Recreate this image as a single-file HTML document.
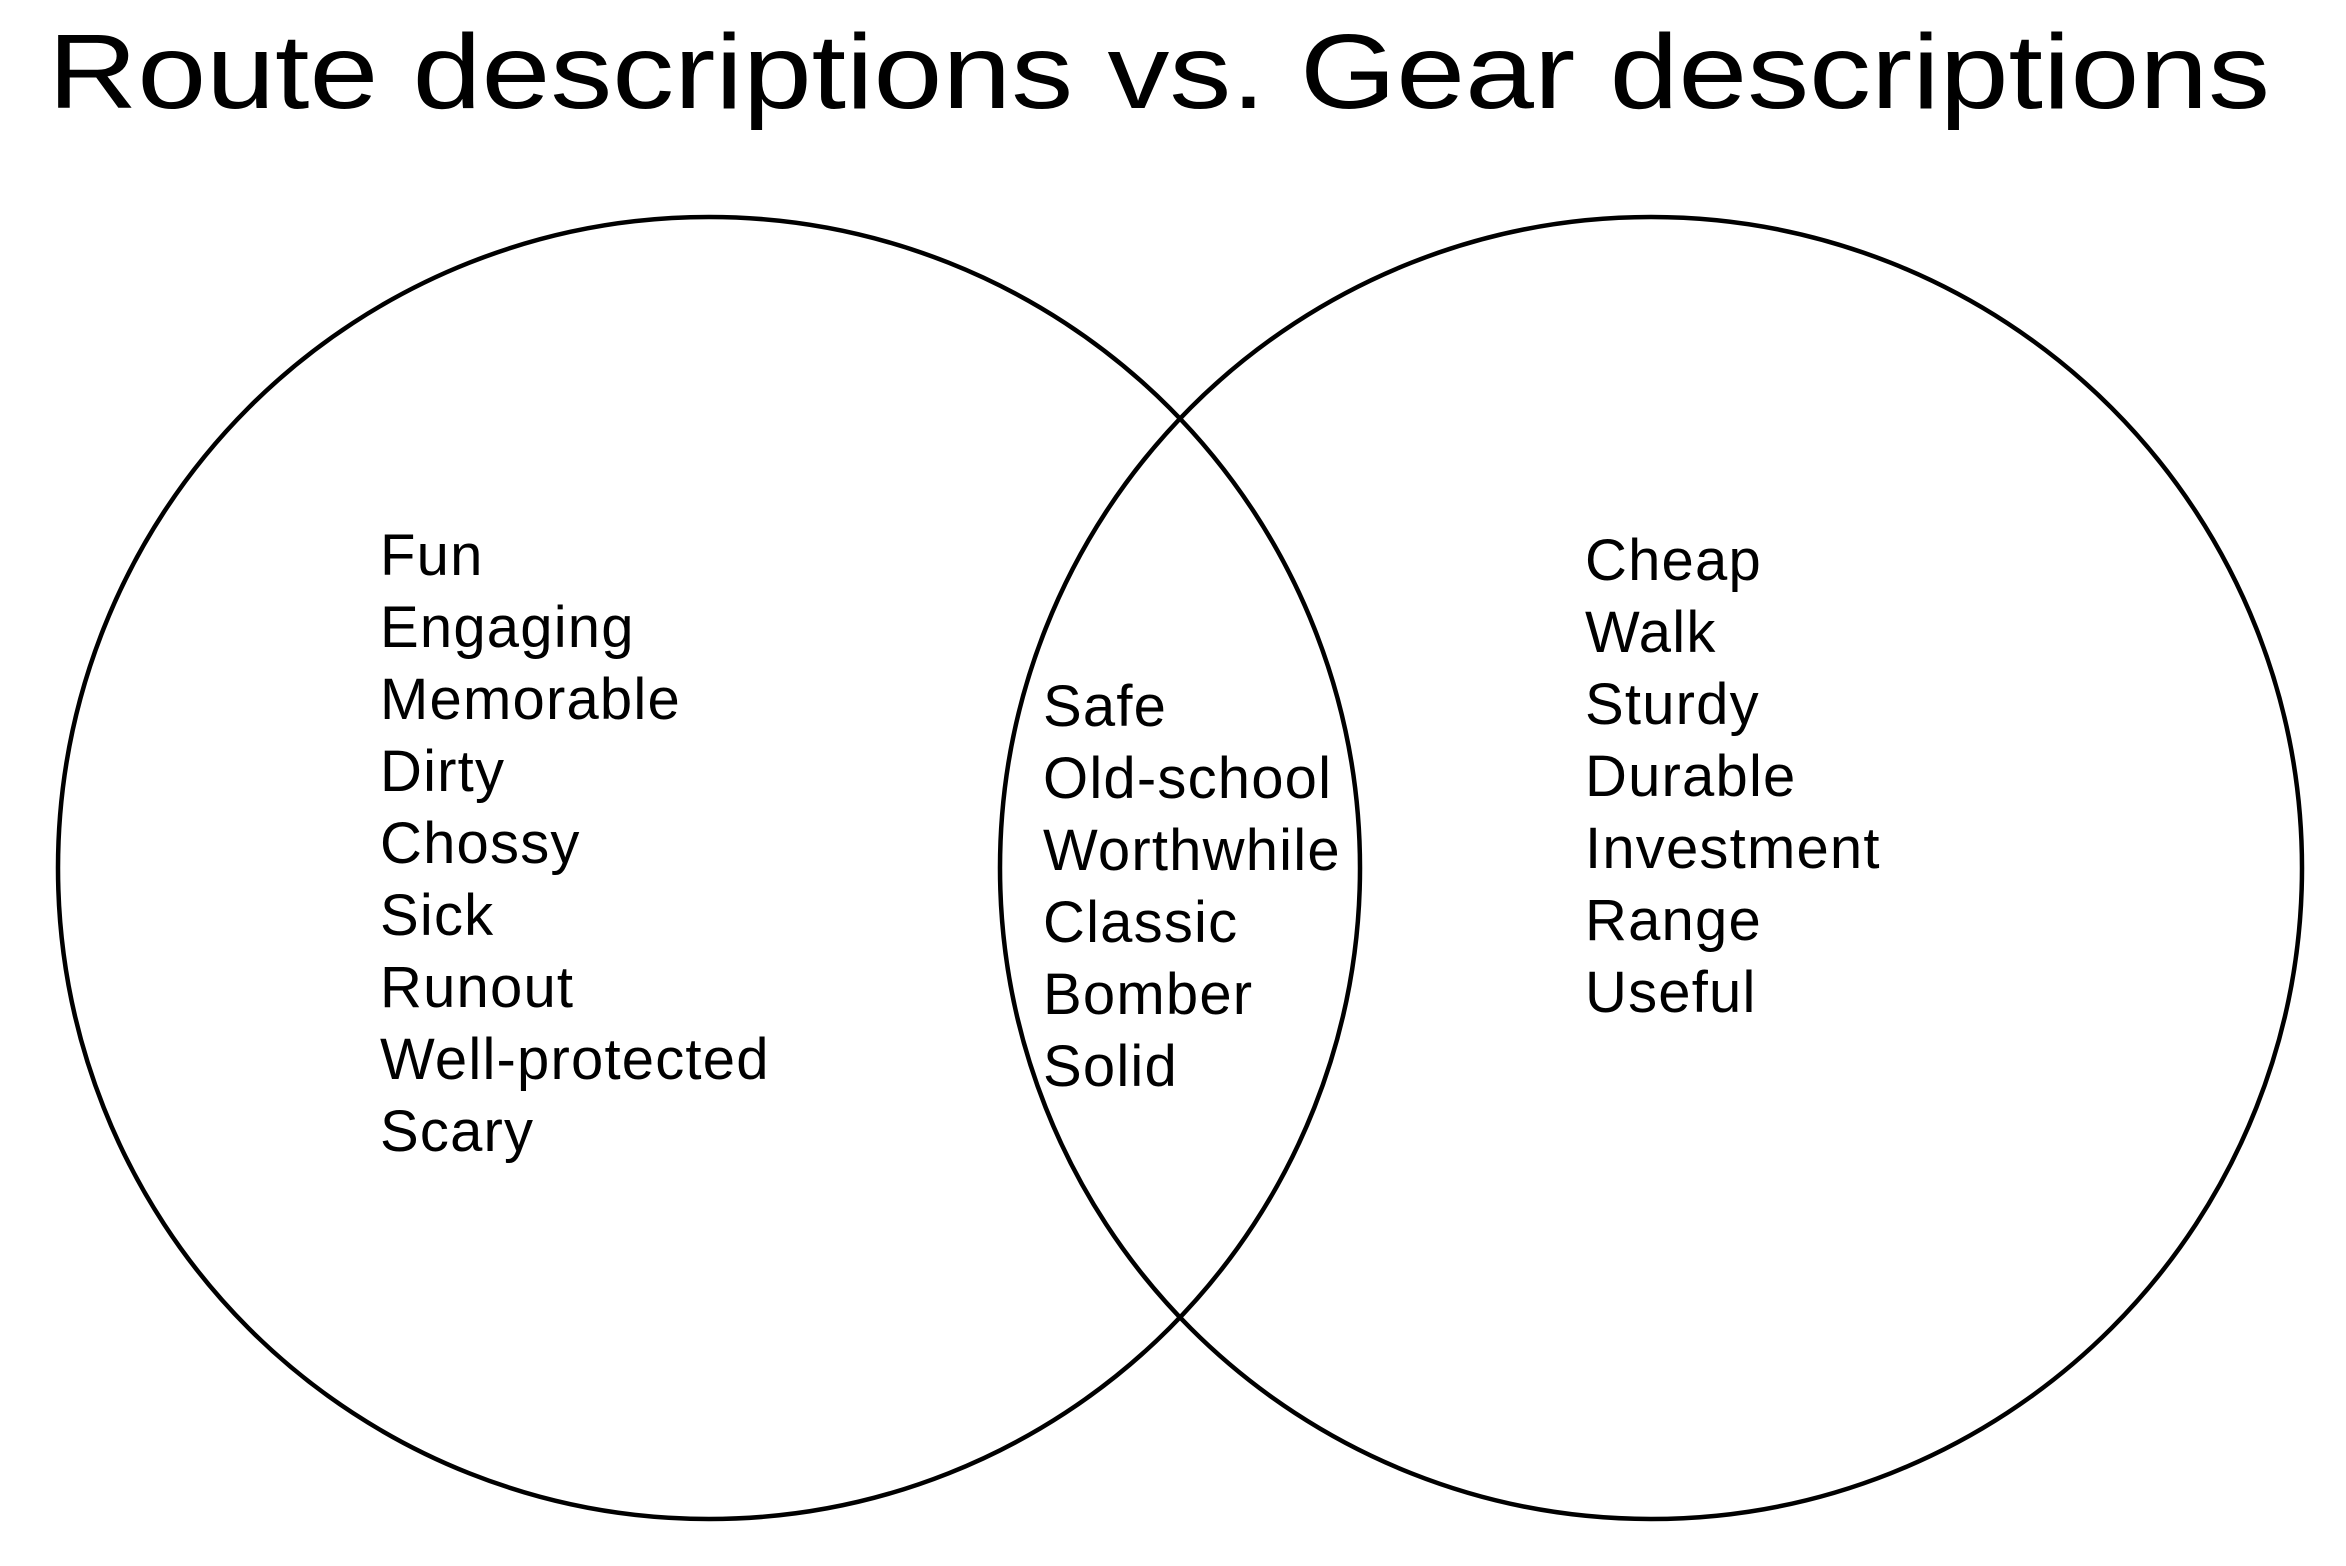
<!DOCTYPE html>
<html><head><meta charset="utf-8"><style>
html,body{margin:0;padding:0;background:#fff;}
svg{display:block;}
text{font-family:"Liberation Sans",Arial,sans-serif;fill:#000;}
</style></head><body>
<svg width="2346" height="1566" viewBox="0 0 2346 1566" xmlns="http://www.w3.org/2000/svg">
<rect width="2346" height="1566" fill="#fff"/>
<text x="48" y="108" font-size="106" textLength="2222" lengthAdjust="spacingAndGlyphs">Route descriptions  vs. Gear descriptions</text>
<circle cx="709" cy="868" r="651" fill="none" stroke="#000" stroke-width="4.5"/>
<circle cx="1651" cy="868" r="651" fill="none" stroke="#000" stroke-width="4.5"/>
<g font-size="58" letter-spacing="1.2">
<text x="380" y="575">Fun</text>
<text x="380" y="647">Engaging</text>
<text x="380" y="719">Memorable</text>
<text x="380" y="791">Dirty</text>
<text x="380" y="863">Chossy</text>
<text x="380" y="935">Sick</text>
<text x="380" y="1007">Runout</text>
<text x="380" y="1079">Well-protected</text>
<text x="380" y="1151">Scary</text>

<text x="1043" y="726">Safe</text>
<text x="1043" y="798">Old-school</text>
<text x="1043" y="870">Worthwhile</text>
<text x="1043" y="942">Classic</text>
<text x="1043" y="1014">Bomber</text>
<text x="1043" y="1086">Solid</text>

<text x="1585" y="580">Cheap</text>
<text x="1585" y="652">Walk</text>
<text x="1585" y="724">Sturdy</text>
<text x="1585" y="796">Durable</text>
<text x="1585" y="868">Investment</text>
<text x="1585" y="940">Range</text>
<text x="1585" y="1012">Useful</text>
</g>
</svg>
</body></html>
